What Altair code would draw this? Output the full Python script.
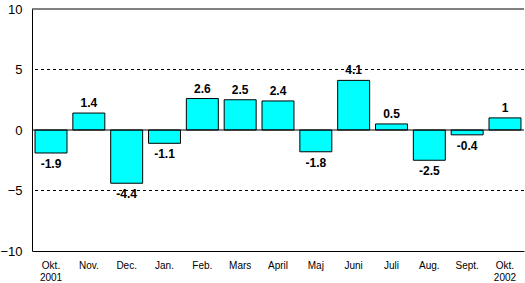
import altair as alt
import pandas as pd

months = ["Okt.|2001", "Nov.", "Dec.", "Jan.", "Feb.", "Mars", "April",
          "Maj", "Juni", "Juli", "Aug.", "Sept.", "Okt.|2002"]
values = [-1.9, 1.4, -4.4, -1.1, 2.6, 2.5, 2.4, -1.8, 4.1, 0.5, -2.5, -0.4, 1]
labels = ["-1.9", "1.4", "-4.4", "-1.1", "2.6", "2.5", "2.4", "-1.8", "4.1",
          "0.5", "-2.5", "-0.4", "1"]
grid_vals = [-5, 5]
font = "Liberation Sans"

df = pd.DataFrame({"month": months, "value": values, "label": labels})
df["pos"] = df["value"] >= 0

x = alt.X("month:N", sort=None, title=None,
          scale=alt.Scale(paddingInner=0.155, paddingOuter=0.08),
          axis=alt.Axis(labelAngle=0, labelExpr="split(datum.label, '|')",
                        labelFont=font, labelFontSize=10, labelColor="black",
                        labelPadding=9, ticks=False, domainColor="black",
                        domainWidth=1, labelLineHeight=12, labelBaseline="top"))
yscale = alt.Scale(domain=[-10, 10], nice=False)
y = alt.Y("value:Q", title=None, scale=yscale,
          axis=alt.Axis(values=[-10, -5, 0, 5, 10], grid=False, ticks=False,
                        labelFont=font, labelFontSize=13, labelColor="black",
                        labelPadding=10, domainColor="black", domainWidth=1))

bars = alt.Chart(df).mark_bar(color="#00FFFF", stroke="black", strokeWidth=1).encode(
    x=x, y=y, y2=alt.datum(0))

lab_pos = alt.Chart(df).transform_filter("datum.value >= 0").mark_text(
    font=font, fontSize=12, fontWeight="bold", baseline="alphabetic", dy=-6,
    color="black").encode(x=alt.X("month:N", sort=None), y=alt.Y("value:Q", scale=yscale), text="label:N")
lab_neg = alt.Chart(df).transform_filter("datum.value < 0").mark_text(
    font=font, fontSize=12, fontWeight="bold", baseline="top", dy=6,
    color="black").encode(x=alt.X("month:N", sort=None), y=alt.Y("value:Q", scale=yscale), text="label:N")

grid = alt.Chart(pd.DataFrame({"g": grid_vals})).mark_rule(
    color="black", strokeDash=[3, 3], strokeWidth=1).encode(y=alt.Y("g:Q", scale=yscale))
zero = alt.Chart(pd.DataFrame({"g": [0]})).mark_rule(
    color="black", strokeWidth=1).encode(y=alt.Y("g:Q", scale=yscale))
top = alt.Chart(pd.DataFrame({"g": [10]})).mark_rule(
    color="black", strokeWidth=1).encode(y=alt.Y("g:Q", scale=yscale))

chart = alt.layer(grid, bars, zero, top, lab_pos, lab_neg).properties(
    width=492, height=242,
    autosize=alt.AutoSizeParams(type="none"),
    padding={"left": 32, "top": 9, "right": 1, "bottom": 32},
    background="white",
).configure_view(stroke=None)

chart.save("out.html", embed_options={"renderer": "svg", "actions": False})
